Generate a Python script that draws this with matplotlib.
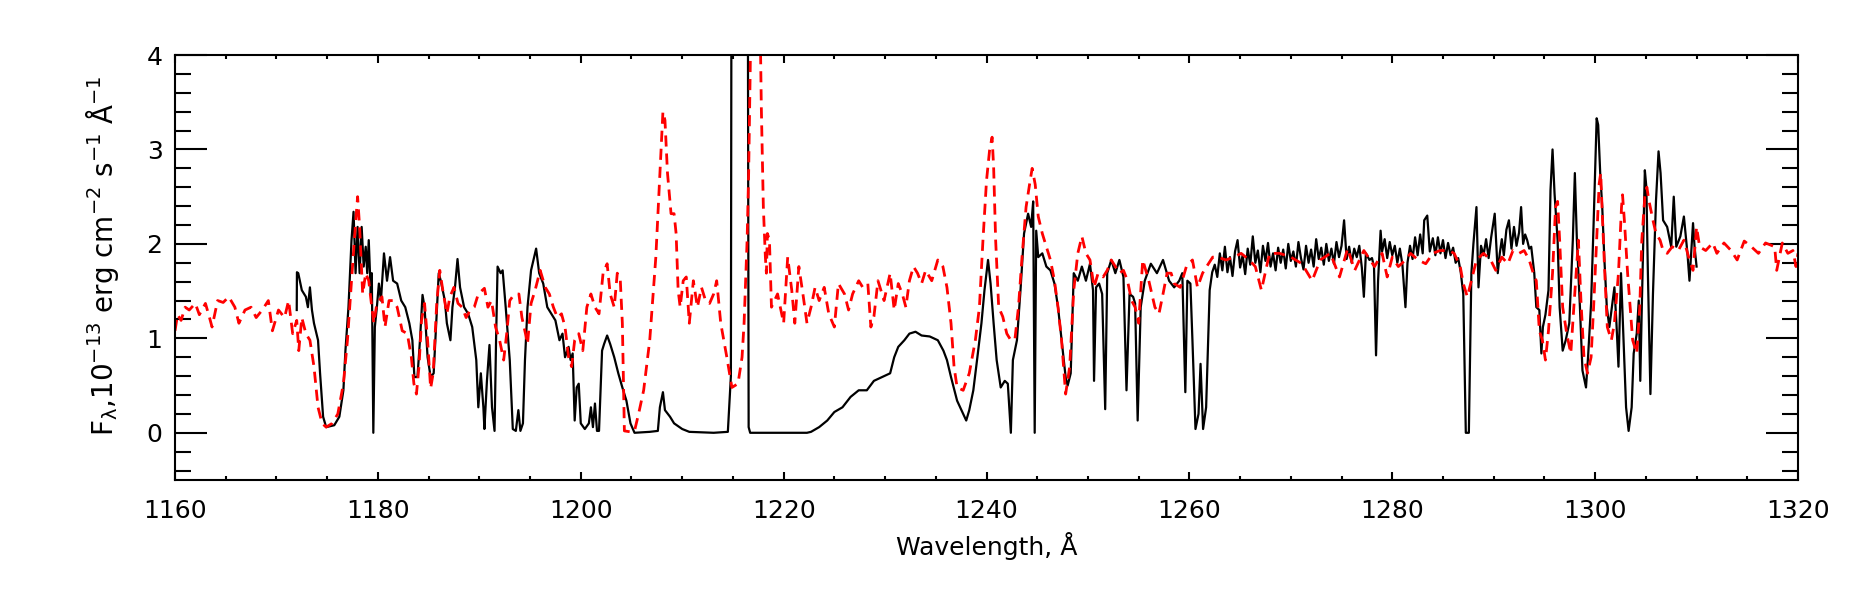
import numpy as np
import matplotlib
matplotlib.use('Agg')
import matplotlib.pyplot as plt
from matplotlib.ticker import MultipleLocator

# observed spectrum (black)
obs_wave = [1172.0, 1172.02, 1172.15, 1172.5, 1172.9, 1173.1, 1173.3, 1173.5, 1173.7, 1174.1,
            1174.3, 1174.6, 1174.9, 1175.7, 1176.2, 1176.6, 1176.8, 1177.1, 1177.4, 1177.6,
            1177.8, 1178.0, 1178.2, 1178.4, 1178.6, 1178.8, 1178.95, 1179.1, 1179.3, 1179.4,
            1179.55, 1179.7, 1179.9, 1180.1, 1180.3, 1180.6, 1180.9, 1181.2, 1181.5, 1181.9,
            1182.3, 1182.7, 1183.1, 1183.4, 1183.6, 1183.9, 1184.15, 1184.4, 1184.6, 1184.9,
            1185.2, 1185.5, 1185.7, 1186.0, 1186.2, 1186.6, 1186.8, 1187.15, 1187.35, 1187.6,
            1187.85, 1188.1, 1188.5, 1188.9, 1189.3, 1189.7, 1189.9, 1190.15, 1190.4, 1190.5,
            1190.75, 1191.0, 1191.25, 1191.5, 1191.65, 1191.8, 1192.1, 1192.3, 1192.6, 1193.0,
            1193.3, 1193.6, 1193.85, 1194.05, 1194.3, 1194.5, 1194.75, 1195.1, 1195.6, 1195.9,
            1196.3, 1196.7, 1197.1, 1197.5, 1197.9, 1198.2, 1198.45, 1198.8, 1199.0, 1199.2,
            1199.4, 1199.6, 1199.8, 1200.0, 1200.4, 1200.8, 1201.0, 1201.2, 1201.4, 1201.6,
            1201.8, 1202.1, 1202.3, 1202.6, 1202.9, 1203.3, 1203.7, 1204.1, 1204.5, 1204.9,
            1205.3, 1206.8, 1207.6, 1207.8, 1208.1, 1208.3, 1208.8, 1209.2, 1210.0, 1210.7,
            1213.1, 1214.5, 1214.8, 1214.95, 1216.35, 1216.55, 1216.7, 1222.3, 1222.7, 1223.5,
            1224.3, 1225.0, 1225.8, 1226.6, 1227.4, 1228.2, 1228.9, 1229.7, 1230.5, 1230.9,
            1231.3, 1231.9, 1232.4, 1233.0, 1233.6, 1234.4, 1235.2, 1235.75, 1236.1, 1236.5,
            1237.1, 1237.7, 1238.0, 1238.3, 1238.7, 1239.1, 1239.5, 1239.8, 1240.15, 1240.4,
            1240.7, 1241.0, 1241.4, 1241.8, 1242.1, 1242.4, 1242.6, 1243.0, 1243.35, 1243.7,
            1244.1, 1244.4, 1244.6, 1244.75, 1244.9, 1245.1, 1245.5, 1245.9, 1246.3, 1246.7,
            1247.05, 1247.4, 1247.8, 1248.0, 1248.3, 1248.6, 1249.0, 1249.4, 1249.8, 1250.2,
            1250.5, 1250.6, 1250.8, 1251.1, 1251.4, 1251.7, 1251.9, 1252.3, 1252.7, 1253.1,
            1253.5, 1253.8, 1254.1, 1254.45, 1254.65, 1254.9, 1255.2, 1255.6, 1256.2, 1256.8,
            1257.4, 1258.0, 1258.5, 1259.0, 1259.3, 1259.6, 1259.8, 1260.1, 1260.3, 1260.6,
            1260.9, 1261.1, 1261.35, 1261.65,
            1262.0, 1262.25, 1262.5, 1262.75, 1263.0, 1263.25, 1263.5, 1263.75, 1264.0, 1264.25,
            1264.5, 1264.75, 1265.0, 1265.25, 1265.5, 1265.75, 1266.0, 1266.25, 1266.5, 1266.75,
            1267.0, 1267.25, 1267.5, 1267.75, 1268.0, 1268.25, 1268.5, 1268.75, 1269.0, 1269.25,
            1269.5, 1269.75, 1270.0, 1270.25, 1270.5, 1270.75, 1271.0, 1271.25, 1271.5, 1271.75,
            1272.0, 1272.25, 1272.5, 1272.75, 1273.0, 1273.25, 1273.5, 1273.75, 1274.0, 1274.25,
            1274.5, 1274.75, 1275.0, 1275.25, 1275.5, 1275.75, 1276.0, 1276.25, 1276.5, 1276.75,
            1277.0, 1277.2, 1277.4, 1277.75, 1278.0, 1278.2, 1278.4, 1278.6, 1278.85, 1279.0,
            1279.25, 1279.5, 1279.75, 1280.0, 1280.25, 1280.5, 1280.75, 1281.0, 1281.3, 1281.5,
            1281.75, 1282.0, 1282.25, 1282.5, 1282.75, 1283.0, 1283.15, 1283.45, 1283.7, 1284.0,
            1284.25, 1284.5, 1284.75, 1285.0, 1285.25, 1285.5, 1285.75, 1286.0, 1286.25, 1286.5,
            1286.75, 1287.0, 1287.25, 1287.55, 1287.8, 1288.0, 1288.3, 1288.5, 1288.75, 1289.0,
            1289.25, 1289.5, 1289.75, 1290.1, 1290.4, 1290.6, 1290.8, 1291.0, 1291.25, 1291.5,
            1291.75, 1292.0, 1292.25, 1292.5, 1292.7, 1292.9, 1293.1, 1293.3, 1293.5, 1293.7,
            1294.0, 1294.2, 1294.5,
            1294.7, 1294.85, 1295.1, 1295.4, 1295.6, 1295.8, 1296.0, 1296.3, 1296.5, 1296.8,
            1297.1, 1297.45, 1297.8, 1298.0, 1298.2, 1298.5, 1298.75, 1299.1, 1299.3, 1299.6,
            1299.85, 1300.15, 1300.3, 1300.5, 1300.7, 1300.9, 1301.15, 1301.4, 1301.65, 1301.9,
            1302.1, 1302.3, 1302.55, 1302.8, 1303.05, 1303.3, 1303.6, 1303.8, 1304.1, 1304.3,
            1304.45, 1304.6, 1304.9, 1305.05, 1305.2, 1305.45, 1305.7, 1306.0, 1306.25, 1306.45,
            1306.7, 1307.1, 1307.5, 1307.75, 1308.0, 1308.4, 1308.75, 1309.1, 1309.3, 1309.65,
            1309.8, 1310.0]
obs_flux = [1.30, 1.70, 1.69, 1.51, 1.44, 1.33, 1.54, 1.30, 1.16, 0.98,
            0.63, 0.17, 0.06, 0.08, 0.17, 0.45, 0.87, 1.33, 2.04, 2.34,
            1.69, 2.18, 1.69, 2.18, 1.76, 1.97, 1.69, 2.04, 1.47, 1.69,
            0.0, 1.12, 1.33, 1.58, 1.40, 1.90, 1.61, 1.86, 1.61, 1.58,
            1.40, 1.33, 1.16, 0.98, 0.59, 0.59, 0.98, 1.46, 1.33, 0.80,
            0.59, 0.63, 1.05, 1.69, 1.61, 1.40, 1.16, 0.98, 1.33, 1.54,
            1.84, 1.54, 1.33, 1.26, 1.12, 0.77, 0.27, 0.63, 0.27, 0.04,
            0.55, 0.93, 0.27, 0.02, 0.98, 1.76, 1.69, 1.72, 1.33, 0.77,
            0.04, 0.02, 0.24, 0.02, 0.10, 0.77, 1.33, 1.72, 1.95, 1.69,
            1.58, 1.33, 1.26, 1.19, 0.98, 1.05, 0.80, 0.91, 0.77, 0.84,
            0.13, 0.48, 0.52, 0.10, 0.04, 0.10, 0.27, 0.06, 0.31, 0.02,
            0.02, 0.87, 0.94, 1.03, 0.94, 0.80, 0.63, 0.48, 0.34, 0.10,
            0.0, 0.01, 0.02, 0.27, 0.43, 0.24, 0.17, 0.10, 0.04, 0.01,
            0.0, 0.01, 0.6, 12.0, 12.0, 0.06, 0.0, 0.0, 0.01, 0.06,
            0.13, 0.22, 0.27, 0.38, 0.45, 0.45, 0.55, 0.59, 0.63, 0.80,
            0.91, 0.98, 1.05, 1.07, 1.03, 1.02, 0.98, 0.87, 0.77, 0.59,
            0.34, 0.20, 0.13, 0.24, 0.45, 0.80, 1.16, 1.51, 1.83, 1.58,
            1.16, 0.77, 0.48, 0.55, 0.52, 0.0, 0.77, 0.98, 1.51, 2.11,
            2.32, 2.18, 2.45, 0.0, 2.14, 1.86, 1.90, 1.76, 1.72, 1.58,
            1.33, 0.98, 0.59, 0.50, 0.63, 1.69, 1.61, 1.76, 1.61, 1.79,
            1.51, 0.55, 1.54, 1.58, 1.47, 0.25, 1.69, 1.83, 1.69, 1.83,
            1.65, 0.45, 1.47, 1.44, 1.37, 0.13, 1.33, 1.61, 1.79, 1.69,
            1.83, 1.61, 1.54, 1.61, 1.69, 0.43, 1.61, 1.58, 0.98, 0.04,
            0.20, 0.73, 0.04, 0.27,
            1.51, 1.70, 1.78, 1.65, 1.90, 1.72, 1.97, 1.70, 1.86, 1.66,
            1.92, 2.04, 1.75, 1.88, 1.68, 1.95, 1.78, 2.08, 1.80, 1.93,
            1.70, 1.98, 1.82, 2.01, 1.76, 1.90, 1.72, 1.96, 1.80, 1.94,
            1.74, 2.00, 1.82, 1.92, 1.76, 2.02, 1.85, 1.73, 1.98, 1.80,
            1.94, 1.76, 2.05, 1.84, 1.96, 1.78, 2.00, 1.82, 1.95, 1.79,
            2.02, 1.86, 1.98, 2.25, 1.84, 1.97, 1.80, 1.95, 1.86, 1.98,
            1.75, 1.44, 1.90, 1.83, 1.85, 1.76, 0.82, 1.61, 2.14, 1.92,
            2.05, 1.85, 2.02, 1.88, 1.98, 1.80, 1.95, 1.78, 1.33, 1.80,
            1.98, 1.84, 2.07, 1.88, 2.10, 1.90, 2.25, 2.30, 1.92, 2.06,
            1.88, 2.07, 1.90, 2.04, 1.85, 2.01, 1.88, 1.96, 1.80, 1.85,
            1.70, 1.47, 0.0, 0.0, 1.69, 2.00, 2.39, 1.54, 1.98, 1.88,
            2.05, 1.85, 2.07, 2.32, 1.69, 1.90, 2.05, 1.88, 2.15, 2.25,
            1.95, 2.18, 1.98, 2.12, 2.39, 2.00, 2.10, 2.04, 1.95, 1.97,
            1.69, 1.33, 1.30,
            0.84, 1.12, 1.25, 1.51, 2.57, 3.00, 2.53, 2.04, 1.33, 0.87,
            0.98, 1.16, 2.04, 2.75, 2.04, 1.33, 0.66, 0.48, 0.80, 1.37,
            2.22, 3.33, 3.26, 2.75, 2.39, 1.86, 1.33, 1.12, 1.33, 1.54,
            1.16, 0.70, 1.69, 0.98, 0.27, 0.02, 0.27, 0.84, 1.05, 1.40,
            0.55, 1.33, 2.78, 2.60, 1.69, 0.41, 1.47, 2.46, 2.98, 2.75,
            2.25, 2.18, 1.97, 2.50, 1.97, 2.08, 2.29, 1.90, 1.61, 2.22,
            1.97, 1.76]

# model spectrum (red dashed)
mod_wave = [1160.0, 1160.25, 1160.6, 1161.0, 1161.4, 1162.0, 1162.4, 1163.0, 1163.4, 1163.65,
            1164.2, 1164.75, 1165.3, 1165.9, 1166.3, 1166.9, 1167.5, 1168.0, 1168.6, 1169.2,
            1169.6, 1170.2, 1170.8, 1171.2, 1171.6, 1172.0, 1172.2, 1172.5, 1172.9, 1173.3,
            1173.7, 1174.1, 1174.5, 1174.9, 1175.5, 1176.05, 1176.6, 1177.0, 1177.4, 1177.8,
            1178.0, 1178.2, 1178.5, 1178.8, 1179.1, 1179.4, 1179.6, 1179.9, 1180.4, 1180.7,
            1181.1, 1181.5, 1181.9, 1182.4, 1182.9, 1183.3, 1183.55, 1183.8, 1184.05, 1184.3,
            1184.6, 1184.9, 1185.2, 1185.45, 1185.8, 1186.1, 1186.4, 1186.8, 1187.1, 1187.5,
            1187.9, 1188.3, 1188.7, 1189.1, 1189.5, 1189.9, 1190.5, 1190.85, 1191.2, 1191.6,
            1192.0, 1192.4, 1192.7, 1193.0, 1193.4, 1193.9, 1194.2, 1194.55, 1194.75, 1195.1,
            1195.5, 1196.0, 1196.5, 1196.9, 1197.3, 1197.7, 1198.1, 1198.45, 1198.8, 1199.1,
            1199.4, 1199.8, 1200.2, 1200.6, 1201.0, 1201.4, 1201.8, 1202.2, 1202.6, 1202.9,
            1203.3, 1203.6, 1203.9, 1204.1, 1204.3, 1204.9, 1205.3, 1205.7, 1206.2, 1206.8,
            1207.4, 1207.8, 1208.1, 1208.3, 1208.55, 1208.9, 1209.2, 1209.4, 1209.6, 1209.8,
            1210.1, 1210.4, 1210.7, 1211.1, 1211.5, 1211.9, 1212.3, 1212.7, 1213.1, 1213.4,
            1213.8, 1214.4, 1214.9, 1215.5, 1215.9, 1216.1, 1216.4, 1216.55, 1216.7, 1216.85,
            1217.6, 1217.8, 1218.0, 1218.2, 1218.3, 1218.4, 1218.6, 1218.8, 1219.4, 1220.0,
            1220.4, 1220.8, 1221.1, 1221.5, 1221.9, 1222.3, 1222.7, 1223.1, 1223.5, 1224.0,
            1224.45, 1225.0, 1225.4, 1226.0, 1226.4, 1226.8, 1227.4, 1227.8, 1228.3, 1228.6,
            1228.9, 1229.3, 1229.9, 1230.5, 1230.9, 1231.3, 1231.7, 1232.05, 1232.4, 1232.8,
            1233.2, 1233.6, 1234.0, 1234.6, 1235.2, 1235.7, 1236.1, 1236.5, 1236.8, 1237.1,
            1237.7, 1238.3, 1238.9, 1239.3, 1239.65, 1240.0, 1240.3, 1240.55, 1240.7, 1240.9,
            1241.2, 1241.6, 1242.0, 1242.4, 1242.8, 1243.15, 1243.5, 1243.9, 1244.3, 1244.5,
            1244.8, 1245.1, 1245.5, 1245.9, 1246.3, 1246.7, 1247.05, 1247.4, 1247.8, 1248.2,
            1248.6, 1249.0, 1249.4, 1249.8, 1250.2, 1250.6, 1251.0, 1251.5, 1251.9, 1252.3,
            1252.7, 1253.1, 1253.5, 1253.9, 1254.3, 1254.65, 1255.0, 1255.4, 1256.0, 1256.6,
            1257.0, 1257.4, 1257.8, 1258.2, 1258.5, 1259.1, 1259.7, 1260.3, 1260.8, 1261.3,
            1261.7, 1262.3, 1262.8, 1263.6, 1264.4, 1265.1, 1265.9, 1266.5, 1267.1, 1267.9,
            1268.9, 1270.0, 1271.1, 1272.1, 1272.9, 1273.9, 1274.8, 1275.6, 1276.3, 1277.2,
            1278.25, 1279.0, 1279.5, 1280.0, 1280.6, 1281.3, 1281.8, 1282.55, 1283.3, 1284.0,
            1284.7, 1285.6, 1286.1, 1286.7, 1287.0, 1287.4, 1287.8, 1288.3, 1289.0, 1289.7,
            1290.2, 1290.8, 1291.4, 1291.9, 1292.5, 1293.0, 1293.5, 1293.9, 1294.2, 1294.5,
            1294.8, 1295.1, 1295.4, 1295.8, 1296.1, 1296.3, 1296.5, 1296.8, 1297.2, 1297.6,
            1297.9, 1298.35, 1298.6, 1298.9, 1299.25, 1299.6, 1299.85, 1300.15, 1300.4, 1300.55,
            1300.7, 1300.95, 1301.2, 1301.6, 1301.9, 1302.3, 1302.6, 1302.7, 1302.9, 1303.2,
            1303.45, 1303.7, 1304.1, 1304.4, 1304.6, 1304.9, 1305.1, 1305.3, 1305.7, 1306.0,
            1306.4, 1306.7, 1307.1, 1307.6, 1308.2, 1308.75, 1309.3, 1309.65, 1310.0, 1310.3,
            1310.9, 1311.6, 1312.0, 1312.7, 1313.4, 1314.0, 1314.7, 1315.4, 1316.1, 1316.8,
            1317.7, 1317.9, 1318.45, 1319.0, 1319.5, 1319.8, 1320.0]
mod_flux = [1.08, 1.25, 1.19, 1.33, 1.30, 1.37, 1.25, 1.37, 1.22, 1.12,
            1.40, 1.38, 1.44, 1.33, 1.16, 1.30, 1.33, 1.22, 1.30, 1.40,
            1.08, 1.30, 1.22, 1.40, 1.05, 1.19, 0.87, 1.22, 1.05, 0.98,
            0.70, 0.27, 0.10, 0.06, 0.10, 0.20, 0.52, 0.98, 1.61, 2.22,
            2.50, 2.18, 1.47, 1.69, 1.61, 1.33, 1.16, 1.37, 1.44, 1.12,
            1.40, 1.40, 1.33, 1.08, 1.05, 0.80, 0.52, 0.41, 0.70, 1.19,
            1.37, 0.98, 0.47, 0.63, 1.37, 1.72, 1.51, 1.26, 1.44, 1.54,
            1.37, 1.33, 1.22, 1.30, 1.33, 1.47, 1.53, 1.33, 1.40, 1.12,
            0.98, 0.77, 1.05, 1.40, 1.46, 1.47, 1.22, 1.05, 0.94, 1.37,
            1.51, 1.72, 1.54, 1.47, 1.33, 1.22, 1.26, 1.12, 0.80, 0.70,
            0.98, 1.05, 0.87, 1.33, 1.47, 1.33, 1.26, 1.69, 1.79, 1.47,
            1.33, 1.69, 1.61, 1.16, 0.02, 0.01, 0.02, 0.20, 0.45, 0.98,
            1.86, 2.75, 3.40, 3.31, 2.75, 2.32, 2.32, 2.11, 1.51, 1.33,
            1.61, 1.65, 1.16, 1.61, 1.33, 1.54, 1.40, 1.37, 1.47, 1.61,
            1.16, 0.80, 0.48, 0.52, 0.80, 1.16, 2.04, 2.75, 3.81, 5.0,
            5.0, 3.45, 2.39, 1.86, 1.69, 2.11, 2.04, 1.33, 1.47, 1.16,
            1.86, 1.51, 1.16, 1.76, 1.47, 1.16, 1.33, 1.54, 1.40, 1.54,
            1.26, 1.12, 1.58, 1.47, 1.30, 1.47, 1.61, 1.54, 1.58, 1.12,
            1.23, 1.61, 1.40, 1.69, 1.30, 1.58, 1.47, 1.33, 1.61, 1.76,
            1.69, 1.58, 1.72, 1.61, 1.83, 1.76, 1.54, 1.16, 0.70, 0.48,
            0.45, 0.63, 0.98, 1.33, 2.04, 2.67, 2.99, 3.13, 2.82, 2.04,
            1.33, 1.23, 1.05, 0.98, 0.99, 1.33, 1.86, 2.39, 2.67, 2.80,
            2.63, 2.29, 2.11, 1.97, 1.83, 1.61, 1.33, 0.98, 0.41, 0.70,
            1.51, 1.90, 2.08, 1.90, 1.83, 1.54, 1.69, 1.65, 1.72, 1.83,
            1.76, 1.69, 1.72, 1.61, 1.40, 1.33, 1.16, 1.83, 1.61, 1.33,
            1.26, 1.47, 1.69, 1.69, 1.58, 1.54, 1.76, 1.83, 1.54, 1.69,
            1.76, 1.86, 1.86, 1.83, 1.86, 1.90, 1.83, 1.76, 1.51, 1.90,
            1.90, 1.86, 1.79, 1.61, 1.83, 1.90, 1.65, 1.95, 1.72, 1.93,
            1.76, 1.90, 1.65, 1.86, 1.76, 1.83, 1.90, 1.83, 1.79, 1.90,
            1.93, 1.93, 1.90, 1.76, 1.58, 1.44, 1.61, 1.83, 1.90, 1.83,
            1.72, 1.86, 1.79, 1.93, 1.90, 1.93, 1.83, 1.69, 1.61, 1.08,
            0.98, 0.77, 1.08, 1.69, 2.39, 2.45, 2.04, 1.33, 1.05, 0.84,
            1.33, 2.04, 1.40, 0.80, 0.63, 0.80, 1.33, 2.04, 2.64, 2.75,
            2.33, 1.69, 1.12, 0.98, 1.16, 1.69, 2.39, 2.52, 2.22, 1.69,
            1.33, 0.98, 0.84, 1.33, 2.04, 2.50, 2.60, 2.46, 2.25, 2.11,
            2.04, 1.93, 1.90, 1.97, 1.93, 2.04, 1.83, 1.72, 2.18, 1.97,
            1.93, 2.01, 1.90, 2.01, 1.93, 1.83, 2.03, 1.97, 1.90, 2.01,
            1.97, 1.72, 2.01, 1.90, 1.93, 1.76, 1.90]

plt.rcParams['font.family'] = ['DejaVu Sans']
plt.rcParams['mathtext.default'] = 'regular'

fig = plt.figure(figsize=(18.5, 5.91), dpi=100)
ax = fig.add_axes([0.0946, 0.1878, 0.8773, 0.7191])

ax.plot(obs_wave, obs_flux, color='black', lw=1.6)
ax.plot(mod_wave, mod_flux, color='red', lw=2.0, linestyle=(0, (4, 2.5)))

ax.set_xlim(1160, 1320)
ax.set_ylim(-0.5, 4.0)

ax.xaxis.set_major_locator(MultipleLocator(20))
ax.xaxis.set_minor_locator(MultipleLocator(5))
ax.yaxis.set_major_locator(MultipleLocator(1))
ax.yaxis.set_minor_locator(MultipleLocator(0.2))

ax.tick_params(axis='both', which='both', direction='in', top=True, right=True,
               width=1.5, labelsize=18)
ax.tick_params(axis='x', which='major', length=6, pad=14)
ax.tick_params(axis='x', which='minor', length=3)
ax.tick_params(axis='y', which='major', length=23, pad=9)
ax.tick_params(axis='y', which='minor', length=11.5)
for s in ax.spines.values():
    s.set_linewidth(1.5)

ax.set_xlabel('Wavelength, Å', fontsize=18, labelpad=6)
ax.set_ylabel(r'F$_{\lambda}$,10$^{-13}$ erg cm$^{-2}$ s$^{-1}$ Å$^{-1}$', fontsize=20)
ax.yaxis.set_label_coords(-0.033, 0.527)

fig.savefig('out.png', dpi=100)
